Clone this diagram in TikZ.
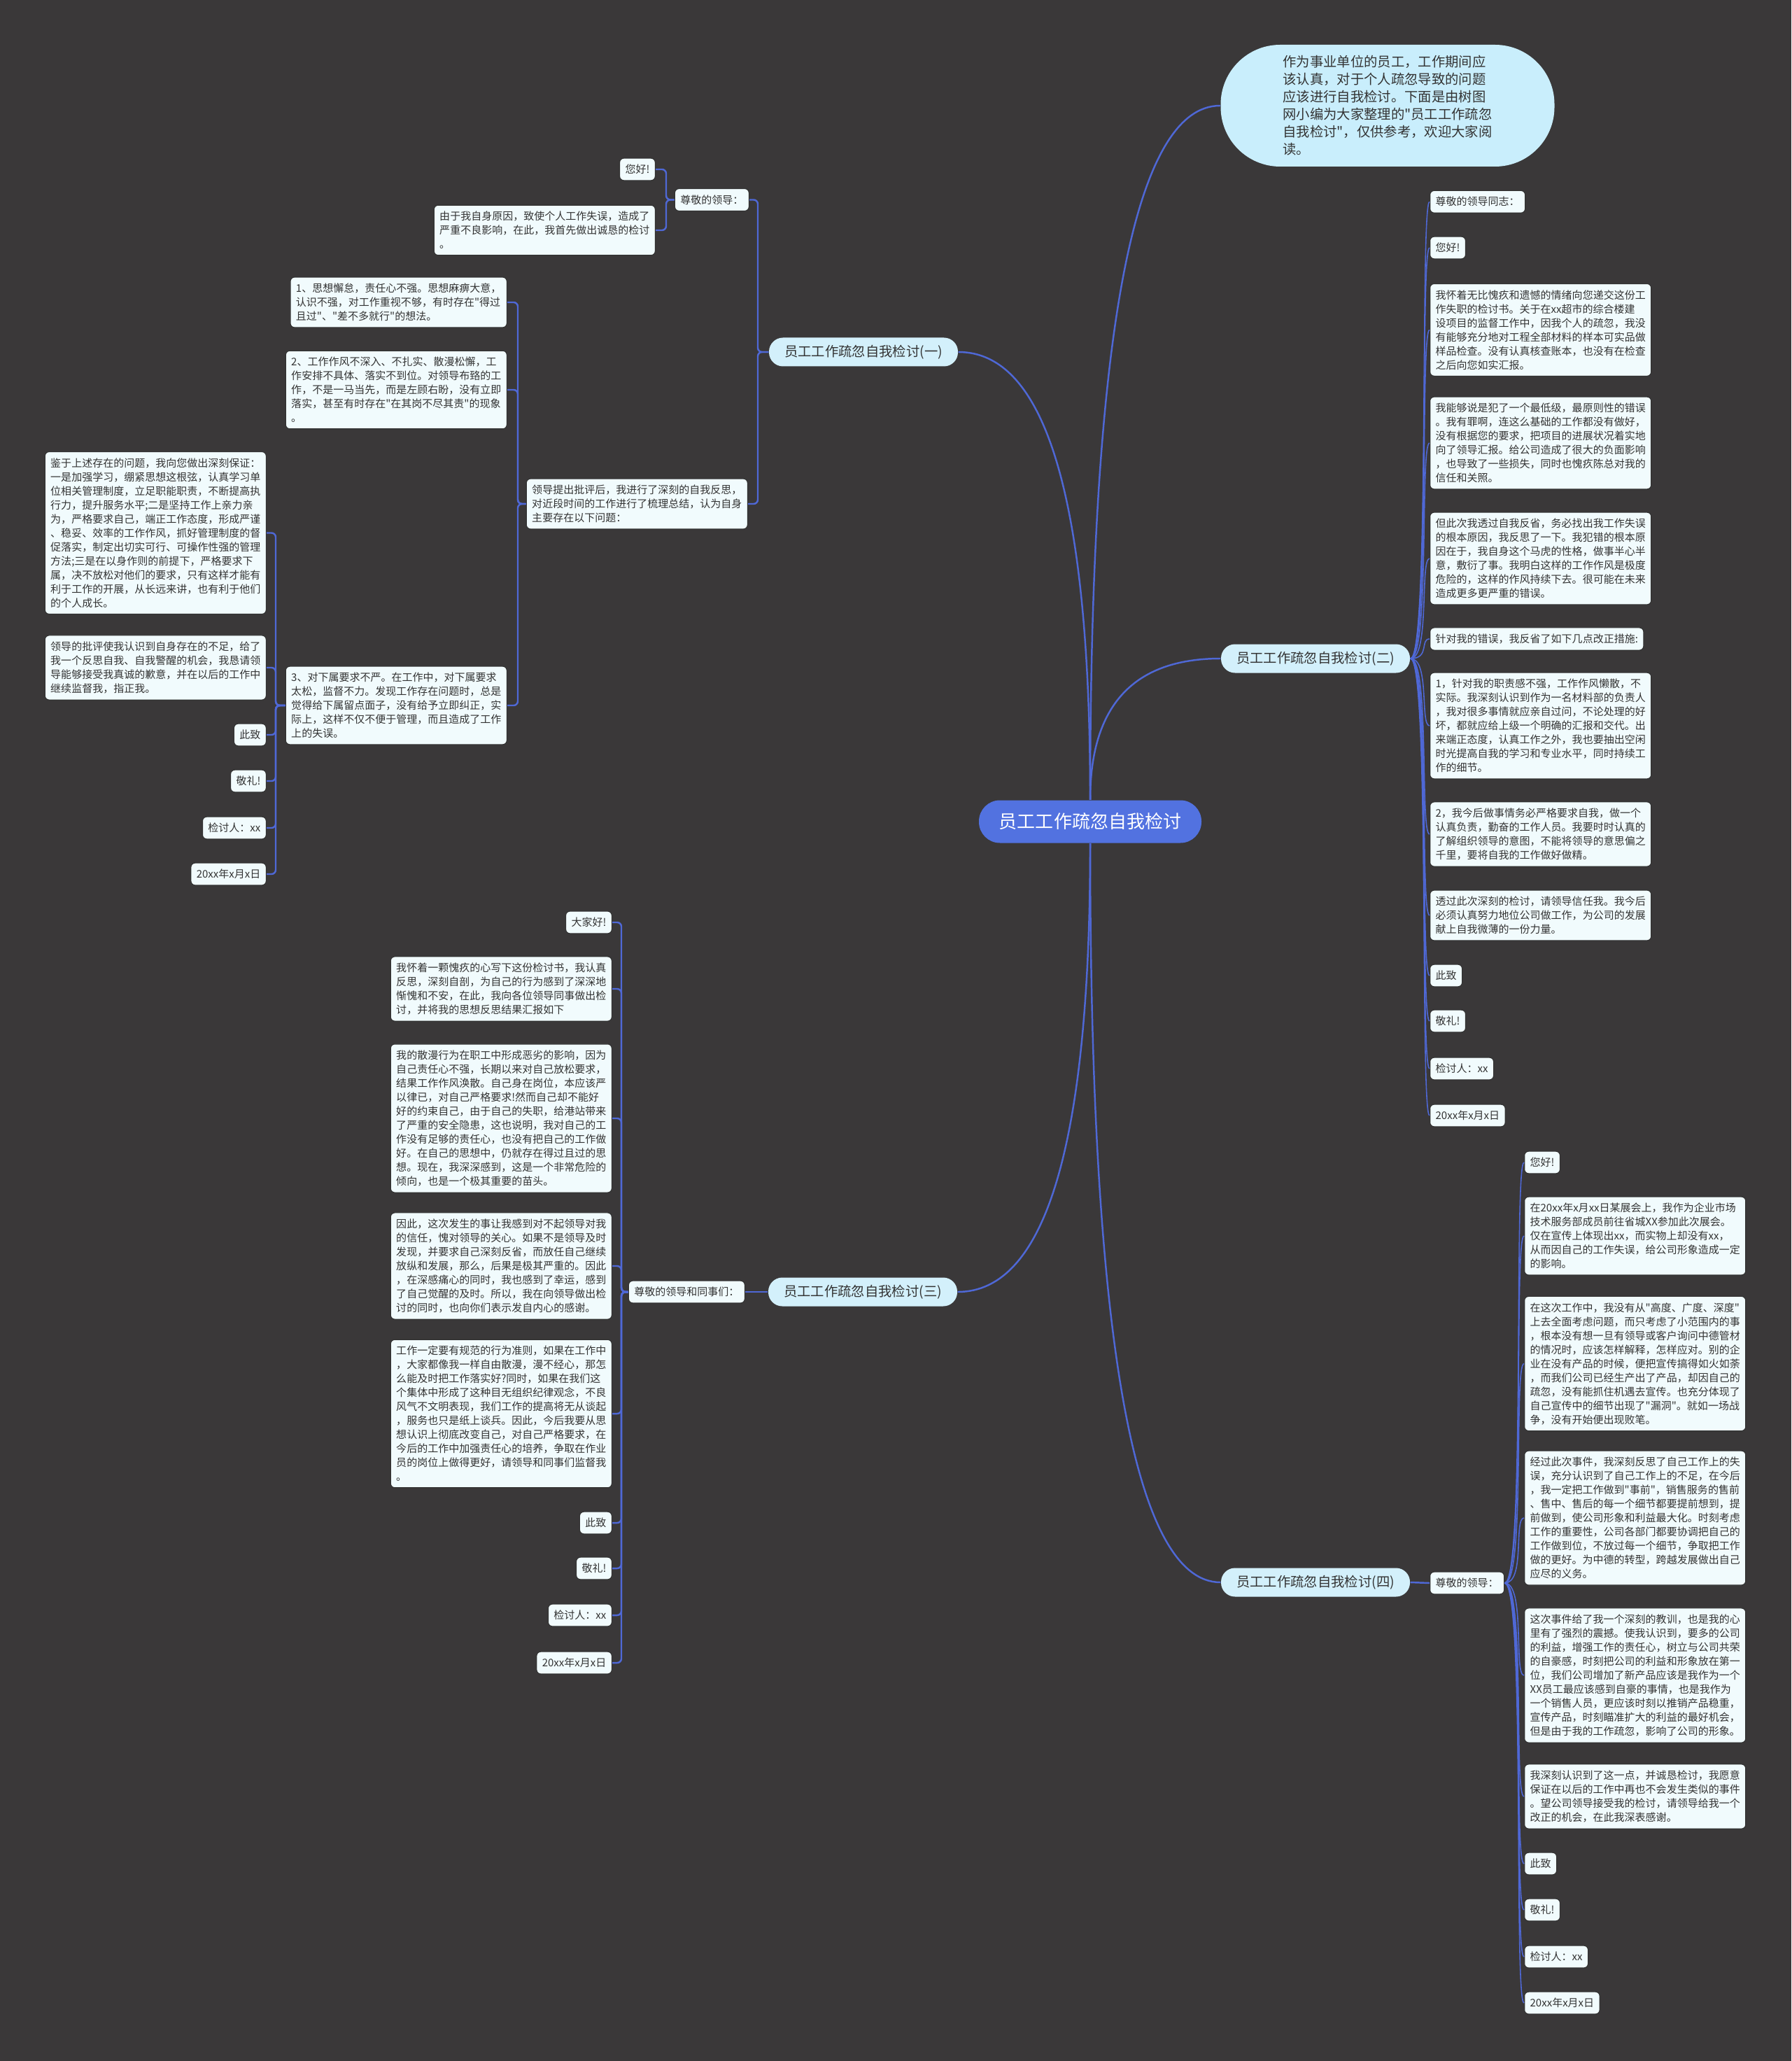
\documentclass[tikz,border=0pt]{standalone}
\usepackage{fontspec}
\setmainfont{Noto Sans CJK SC}[Ligatures=TeXOff]
\usepackage{xcolor}
\usepackage{tikz}
\usetikzlibrary{calc}

\definecolor{bgcol}{HTML}{3A3839}
\definecolor{leaffill}{HTML}{F1FBFD}
\definecolor{branchfill}{HTML}{D3F0FB}
\definecolor{introfill}{HTML}{C9EEFC}
\definecolor{rootfill}{HTML}{5272E0}
\definecolor{linkcol}{HTML}{4F68D6}
\definecolor{inkcol}{HTML}{333333}

% curved main connector, bending like a quadratic through the corner
\newcommand{\trunk}[2]{%
  \draw[trunk] (#1) .. controls ($(#1)!0.667!(#1 |- #2)$)
                            and ($(#2)!0.667!(#1 |- #2)$) .. (#2);}

\begin{document}
\begin{tikzpicture}[
      every node/.style={align=left, text=inkcol},
      leaf/.style={draw=black!80, line width=0.35pt, fill=leaffill,
                   rounded corners=0.06cm, inner xsep=0.08cm, inner ysep=0.09cm,
                   font=\fontsize{4.27}{5.69}\selectfont},
      branch/.style={fill=branchfill, rounded corners=0.2cm, inner sep=0pt,
                     minimum width=2.70cm, minimum height=0.41cm,
                     font=\fontsize{5.5}{6.5}\selectfont},
      root/.style={fill=rootfill, text=white, rounded corners=0.3cm, inner sep=0pt,
                   minimum width=3.18cm, minimum height=0.61cm,
                   font=\fontsize{7.4}{8.5}\selectfont},
      intro/.style={fill=introfill, rounded corners=0.85cm, inner sep=0pt,
                    minimum width=4.77cm, minimum height=1.74cm,
                    font=\fontsize{5.5}{7.1}\selectfont},
      trunk/.style={draw=linkcol, line width=0.7pt},
      twig/.style={draw=linkcol, line width=0.7pt, rounded corners=0.06cm},
      fan/.style={draw=linkcol, line width=0.45pt},
  ]

  \useasboundingbox (0,0) rectangle (25.60,-29.45);
  \fill[bgcol] (0,0) rectangle (25.60,-29.45);

  % Centre and main branches
  \node[root]   (root)  at (15.58,-11.74) {员工工作疏忽自我检讨};
  \node[intro]  (intro) at (19.83, -1.51) {作为事业单位的员工，工作期间应\\该认真，对于个人疏忽导致的问题\\应该进行自我检讨。下面是由树图\\网小编为大家整理的"员工工作疏忽\\自我检讨"，仅供参考，欢迎大家阅\\读。};
  \node[branch] (b1)    at (12.34, -5.03) {员工工作疏忽自我检讨(一)};
  \node[branch] (b2)    at (18.80, -9.41) {员工工作疏忽自我检讨(二)};
  \node[branch] (b3)    at (12.33,-18.46) {员工工作疏忽自我检讨(三)};
  \node[branch] (b4)    at (18.80,-22.61) {员工工作疏忽自我检讨(四)};

  % Branch (一), growing to the left
  \node[leaf, anchor=east] (p1)  at (10.71, -2.855) {尊敬的领导：};
  \node[leaf, anchor=east] (p2)  at ( 9.37, -2.42)  {您好!};
  \node[leaf, anchor=east] (p3)  at ( 9.37, -3.29)  {由于我自身原因，致使个人工作失误，造成了\\严重不良影响，在此，我首先做出诚恳的检讨\\。};
  \node[leaf, anchor=east] (p4)  at (10.69, -7.20)  {领导提出批评后，我进行了深刻的自我反思，\\对近段时间的工作进行了梳理总结，认为自身\\主要存在以下问题：};
  \node[leaf, anchor=east] (p5)  at ( 7.25, -4.32)  {1、思想懈怠，责任心不强。思想麻痹大意，\\认识不强，对工作重视不够，有时存在"得过\\且过"、"差不多就行"的想法。};
  \node[leaf, anchor=east] (p6)  at ( 7.25, -5.57)  {2、工作作风不深入、不扎实、散漫松懈，工\\作安排不具体、落实不到位。对领导布臵的工\\作，不是一马当先，而是左顾右盼，没有立即\\落实，甚至有时存在"在其岗不尽其责"的现象\\。};
  \node[leaf, anchor=east] (p7)  at ( 7.25,-10.08)  {3、对下属要求不严。在工作中，对下属要求\\太松，监督不力。发现工作存在问题时，总是\\觉得给下属留点面子，没有给予立即纠正，实\\际上，这样不仅不便于管理，而且造成了工作\\上的失误。};
  \node[leaf, anchor=east] (p8)  at ( 3.81, -7.615) {鉴于上述存在的问题，我向您做出深刻保证：\\一是加强学习，绷紧思想这根弦，认真学习单\\位相关管理制度，立足职能职责，不断提高执\\行力，提升服务水平;二是坚持工作上亲力亲\\为，严格要求自己，端正工作态度，形成严谨\\、稳妥、效率的工作作风，抓好管理制度的督\\促落实，制定出切实可行、可操作性强的管理\\方法;三是在以身作则的前提下，严格要求下\\属，决不放松对他们的要求，只有这样才能有\\利于工作的开展，从长远来讲，也有利于他们\\的个人成长。};
  \node[leaf, anchor=east] (p9)  at ( 3.81, -9.54)  {领导的批评使我认识到自身存在的不足，给了\\我一个反思自我、自我警醒的机会，我恳请领\\导能够接受我真诚的歉意，并在以后的工作中\\继续监督我，指正我。};
  \node[leaf, anchor=east] (p10) at ( 3.81,-10.50)  {此致};
  \node[leaf, anchor=east] (p11) at ( 3.81,-11.16)  {敬礼!};
  \node[leaf, anchor=east] (p12) at ( 3.81,-11.83)  {检讨人：xx};
  \node[leaf, anchor=east] (p13) at ( 3.81,-12.49)  {20xx年x月x日};

  % Branch (二), growing to the right
  \node[leaf, anchor=west] (q1)  at (20.43, -2.883) {尊敬的领导同志：};
  \node[leaf, anchor=west] (q2)  at (20.43, -3.54)  {您好!};
  \node[leaf, anchor=west] (q3)  at (20.43, -4.714) {我怀着无比愧疚和遗憾的情绪向您递交这份工\\作失职的检讨书。关于在xx超市的综合楼建\\设项目的监督工作中，因我个人的疏忽，我没\\有能够充分地对工程全部材料的样本可实品做\\样品检查。没有认真核查账本，也没有在检查\\之后向您如实汇报。};
  \node[leaf, anchor=west] (q4)  at (20.43, -6.33)  {我能够说是犯了一个最低级，最原则性的错误\\。我有罪啊，连这么基础的工作都没有做好，\\没有根据您的要求，把项目的进展状况着实地\\向了领导汇报。给公司造成了很大的负面影响\\，也导致了一些损失，同时也愧疚陈总对我的\\信任和关照。};
  \node[leaf, anchor=west] (q5)  at (20.43, -7.98)  {但此次我透过自我反省，务必找出我工作失误\\的根本原因，我反思了一下。我犯错的根本原\\因在于，我自身这个马虎的性格，做事半心半\\意，敷衍了事。我明白这样的工作作风是极度\\危险的，这样的作风持续下去。很可能在未来\\造成更多更严重的错误。};
  \node[leaf, anchor=west] (q6)  at (20.43, -9.13)  {针对我的错误，我反省了如下几点改正措施:};
  \node[leaf, anchor=west] (q7)  at (20.43,-10.37)  {1，针对我的职责感不强，工作作风懒散，不\\实际。我深刻认识到作为一名材料部的负责人\\，我对很多事情就应亲自过问，不论处理的好\\坏，都就应给上级一个明确的汇报和交代。出\\来端正态度，认真工作之外，我也要抽出空闲\\时光提高自我的学习和专业水平，同时持续工\\作的细节。};
  \node[leaf, anchor=west] (q8)  at (20.43,-11.92)  {2，我今后做事情务必严格要求自我，做一个\\认真负责，勤奋的工作人员。我要时时认真的\\了解组织领导的意图，不能将领导的意思偏之\\千里，要将自我的工作做好做精。};
  \node[leaf, anchor=west] (q9)  at (20.43,-13.08)  {透过此次深刻的检讨，请领导信任我。我今后\\必须认真努力地位公司做工作，为公司的发展\\献上自我微薄的一份力量。};
  \node[leaf, anchor=west] (q10) at (20.43,-13.94)  {此致};
  \node[leaf, anchor=west] (q11) at (20.43,-14.59)  {敬礼!};
  \node[leaf, anchor=west] (q12) at (20.43,-15.27)  {检讨人：xx};
  \node[leaf, anchor=west] (q13) at (20.43,-15.94)  {20xx年x月x日};

  % Branch (三), growing to the left
  \node[leaf, anchor=east] (r0)  at (10.65,-18.46)  {尊敬的领导和同事们：};
  \node[leaf, anchor=east] (r1)  at ( 8.75,-13.18)  {大家好!};
  \node[leaf, anchor=east] (r2)  at ( 8.75,-14.13)  {我怀着一颗愧疚的心写下这份检讨书，我认真\\反思，深刻自剖，为自己的行为感到了深深地\\惭愧和不安，在此，我向各位领导同事做出检\\讨，并将我的思想反思结果汇报如下};
  \node[leaf, anchor=east] (r3)  at ( 8.75,-15.98)  {我的散漫行为在职工中形成恶劣的影响，因为\\自己责任心不强，长期以来对自己放松要求，\\结果工作作风涣散。自己身在岗位，本应该严\\以律已，对自己严格要求!然而自己却不能好\\好的约束自己，由于自己的失职，给港站带来\\了严重的安全隐患，这也说明，我对自己的工\\作没有足够的责任心，也没有把自己的工作做\\好。在自己的思想中，仍就存在得过且过的思\\想。现在，我深深感到，这是一个非常危险的\\倾向，也是一个极其重要的苗头。};
  \node[leaf, anchor=east] (r4)  at ( 8.75,-18.09)  {因此，这次发生的事让我感到对不起领导对我\\的信任，愧对领导的关心。如果不是领导及时\\发现，并要求自己深刻反省，而放任自己继续\\放纵和发展，那么，后果是极其严重的。因此\\，在深感痛心的同时，我也感到了幸运，感到\\了自己觉醒的及时。所以，我在向领导做出检\\讨的同时，也向你们表示发自内心的感谢。};
  \node[leaf, anchor=east] (r5)  at ( 8.75,-20.20)  {工作一定要有规范的行为准则，如果在工作中\\，大家都像我一样自由散漫，漫不经心，那怎\\么能及时把工作落实好?同时，如果在我们这\\个集体中形成了这种目无组织纪律观念，不良\\风气不文明表现，我们工作的提高将无从谈起\\，服务也只是纸上谈兵。因此，今后我要从思\\想认识上彻底改变自己，对自己严格要求，在\\今后的工作中加强责任心的培养，争取在作业\\员的岗位上做得更好，请领导和同事们监督我\\。};
  \node[leaf, anchor=east] (r6)  at ( 8.75,-21.76)  {此致};
  \node[leaf, anchor=east] (r7)  at ( 8.75,-22.41)  {敬礼!};
  \node[leaf, anchor=east] (r8)  at ( 8.75,-23.08)  {检讨人：xx};
  \node[leaf, anchor=east] (r9)  at ( 8.75,-23.76)  {20xx年x月x日};

  % Branch (四), growing to the right
  \node[leaf, anchor=west] (s0)  at (20.43,-22.62)  {尊敬的领导：};
  \node[leaf, anchor=west] (s1)  at (21.78,-16.61)  {您好!};
  \node[leaf, anchor=west] (s2)  at (21.78,-17.66)  {在20xx年x月xx日某展会上，我作为企业市场\\技术服务部成员前往省城XX参加此次展会。\\仅在宣传上体现出xx，而实物上却没有xx，\\从而因自己的工作失误，给公司形象造成一定\\的影响。};
  \node[leaf, anchor=west] (s3)  at (21.78,-19.485) {在这次工作中，我没有从"高度、广度、深度"\\上去全面考虑问题，而只考虑了小范围内的事\\，根本没有想一旦有领导或客户询问中德管材\\的情况时，应该怎样解释，怎样应对。别的企\\业在没有产品的时候，便把宣传搞得如火如荼\\，而我们公司已经生产出了产品，却因自己的\\疏忽，没有能抓住机遇去宣传。也充分体现了\\自己宣传中的细节出现了"漏洞"。就如一场战\\争，没有开始便出现败笔。};
  \node[leaf, anchor=west] (s4)  at (21.78,-21.69)  {经过此次事件，我深刻反思了自己工作上的失\\误，充分认识到了自己工作上的不足，在今后\\，我一定把工作做到"事前"，销售服务的售前\\、售中、售后的每一个细节都要提前想到，提\\前做到，使公司形象和利益最大化。时刻考虑\\工作的重要性，公司各部门都要协调把自己的\\工作做到位，不放过每一个细节，争取把工作\\做的更好。为中德的转型，跨越发展做出自己\\应尽的义务。};
  \node[leaf, anchor=west] (s5)  at (21.78,-23.94)  {这次事件给了我一个深刻的教训，也是我的心\\里有了强烈的震撼。使我认识到，要多的公司\\的利益，增强工作的责任心，树立与公司共荣\\的自豪感，时刻把公司的利益和形象放在第一\\位，我们公司增加了新产品应该是我作为一个\\XX员工最应该感到自豪的事情，也是我作为\\一个销售人员，更应该时刻以推销产品稳重，\\宣传产品，时刻瞄准扩大的利益的最好机会，\\但是由于我的工作疏忽，影响了公司的形象。};
  \node[leaf, anchor=west] (s6)  at (21.78,-25.67)  {我深刻认识到了这一点，并诚恳检讨，我愿意\\保证在以后的工作中再也不会发生类似的事件\\。望公司领导接受我的检讨，请领导给我一个\\改正的机会，在此我深表感谢。};
  \node[leaf, anchor=west] (s7)  at (21.78,-26.63)  {此致};
  \node[leaf, anchor=west] (s8)  at (21.78,-27.29)  {敬礼!};
  \node[leaf, anchor=west] (s9)  at (21.78,-27.96)  {检讨人：xx};
  \node[leaf, anchor=west] (s10) at (21.78,-28.62)  {20xx年x月x日};

  % Main connectors from the centre
  \trunk{root.north}{intro.west}
  \trunk{root.north}{b1.east}
  \trunk{root.north}{b2.west}
  \trunk{root.south}{b3.east}
  \trunk{root.south}{b4.west}

  % Left side: bracket spines
  \coordinate (sp1) at (10.83,0);
  \coordinate (sp2) at ( 9.52,0);
  \coordinate (sp3) at ( 7.40,0);
  \coordinate (sp4) at ( 3.94,0);
  \coordinate (sp5) at ( 8.88,0);
  \foreach \c in {p1,p4}
    \draw[twig] (b1.west) -- (sp1 |- b1.west) -- (sp1 |- \c.east) -- (\c.east);
  \foreach \c in {p2,p3}
    \draw[twig] (p1.west) -- (sp2 |- p1.west) -- (sp2 |- \c.east) -- (\c.east);
  \foreach \c in {p5,p6,p7}
    \draw[twig] (p4.west) -- (sp3 |- p4.west) -- (sp3 |- \c.east) -- (\c.east);
  \foreach \c in {p8,p9,p10,p11,p12,p13}
    \draw[twig] (p7.west) -- (sp4 |- p7.west) -- (sp4 |- \c.east) -- (\c.east);
  \draw[twig] (b3.west) -- (r0.east);
  \foreach \c in {r1,r2,r3,r4,r5,r6,r7,r8,r9}
    \draw[twig] (r0.west) -- (sp5 |- r0.west) -- (sp5 |- \c.east) -- (\c.east);

  % Right side: fanned curves
  \foreach \c in {q1,q2,q3,q4,q5,q6,q7,q8,q9,q10,q11,q12,q13}
    \draw[fan] (b2.east) .. controls +(0.28,0) and +(-0.14,0) .. (\c.west);
  \draw[twig] (b4.east) -- (s0.west);
  \foreach \c in {s1,s2,s3,s4,s5,s6,s7,s8,s9,s10}
    \draw[fan] (s0.east) .. controls +(0.30,0) and +(-0.15,0) .. (\c.west);

\end{tikzpicture}
\end{document}
